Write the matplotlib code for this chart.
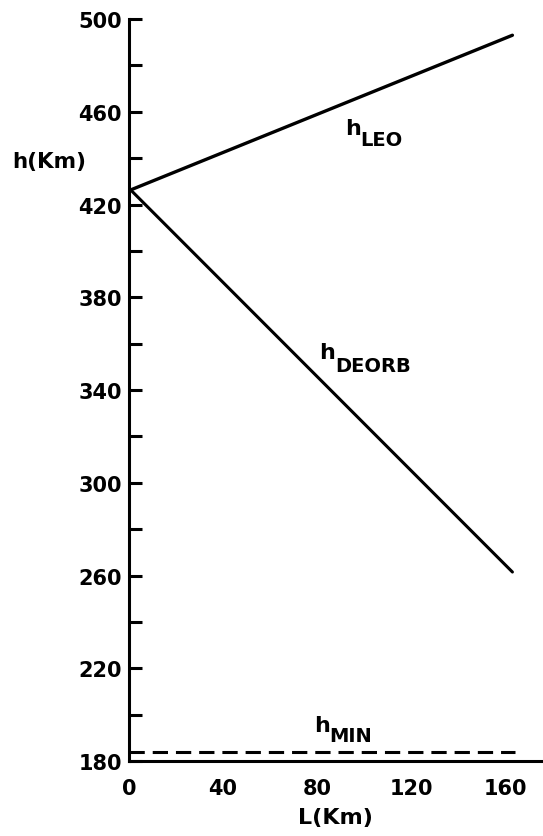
import matplotlib.pyplot as plt
import numpy as np

# values
L_leo = [0, 163]
h_leo = [426, 493]
L_deorb = [0, 163]
h_deorb = [427, 261.5]
L_min = [0, 164]
h_min = [184, 184]

xticks = [0, 40, 80, 120, 160]
yticks = [180, 220, 260, 300, 340, 380, 420, 460, 500]
yminor = [200, 240, 280, 320, 360, 400, 440, 480]

# curve labels: (x, y) of the "h", subscript, offset of the subscript in points
labels = [
    (92, 450.5, 'LEO', (11, -8)),
    (81, 354, 'DEORB', (11, -10)),
    (78.5, 193, 'MIN', (11, -7.5)),
]

plt.rcParams['font.family'] = ['DejaVu Sans']
plt.rcParams['font.weight'] = 'bold'

fig = plt.figure(figsize=(5.43, 8.37), dpi=100)
ax = fig.add_axes([0.2376, 0.0896, 0.7624, 0.8865])

ax.plot(L_leo, h_leo, color='black', lw=2.4, solid_capstyle='round')
ax.plot(L_deorb, h_deorb, color='black', lw=2.2, solid_capstyle='round')
ax.plot(L_min, h_min, color='black', lw=2.2, dashes=(5, 2.6))

ax.set_xlim(0, 176)
ax.set_ylim(180, 500)

ax.spines['top'].set_visible(False)
ax.spines['right'].set_visible(False)
ax.spines['left'].set_linewidth(2.2)
ax.spines['bottom'].set_linewidth(2.2)

ax.set_xticks(xticks)
ax.set_yticks(yticks)
ax.set_yticks(yminor, minor=True)
ax.tick_params(axis='y', which='both', direction='in', length=9, width=2.2, labelsize=15, pad=5)
ax.tick_params(axis='x', length=0, labelsize=15, pad=12)

fig.text(12 / 543, 1 - 162 / 837, 'h(Km)', fontsize=15.5, ha='left', va='center')
fig.text(335 / 543, 1 - 818 / 837, 'L(Km)', fontsize=16, ha='center', va='center')

for x, y, sub, off in labels:
    ax.text(x, y, 'h', fontsize=16, ha='left', va='baseline')
    ax.annotate(sub, (x, y), xytext=off, textcoords='offset points',
                fontsize=14, ha='left', va='baseline')

fig.savefig('out.png', dpi=100)
